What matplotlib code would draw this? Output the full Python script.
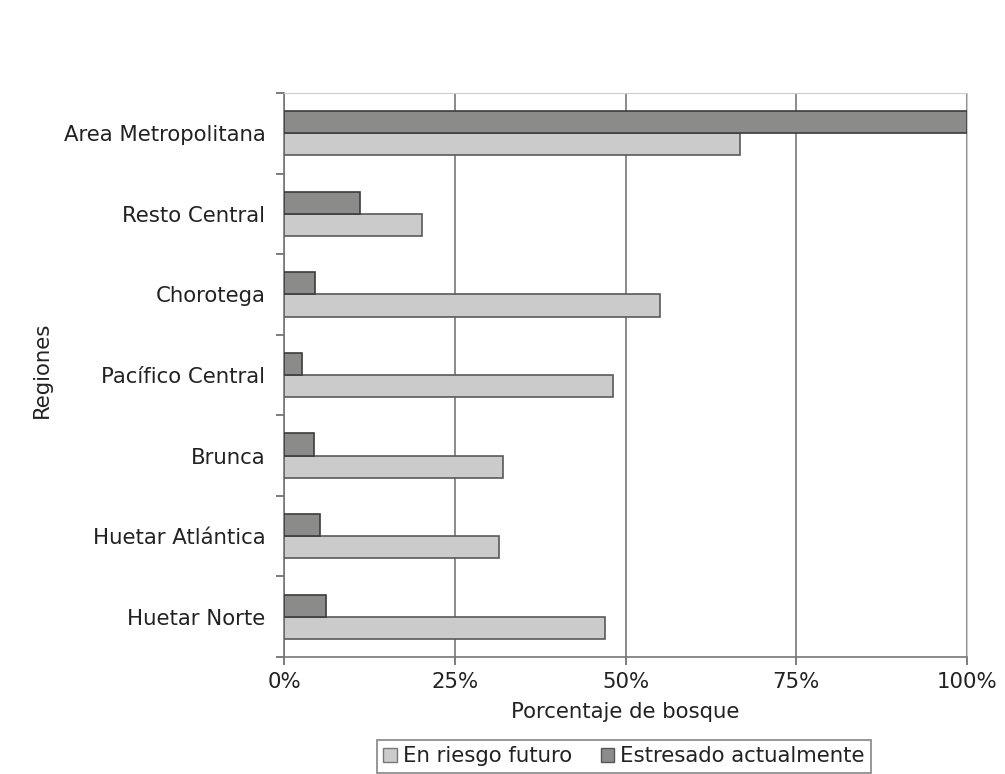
import numpy as np
import matplotlib.pyplot as plt
from matplotlib.patches import Patch

regiones = ['Area Metropolitana', 'Resto Central', 'Chorotega', 'Pacífico Central',
            'Brunca', 'Huetar Atlántica', 'Huetar Norte']
en_riesgo = [66.8, 20.2, 55.1, 48.1, 32.1, 31.5, 47.0]
estresado = [100.0, 11.1, 4.6, 2.6, 4.4, 5.3, 6.1]
xticks = [0, 25, 50, 75, 100]
xlabels = ['0%', '25%', '50%', '75%', '100%']

plt.rcParams['font.family'] = 'DejaVu Sans'
fs = 15.3

fig = plt.figure(figsize=(10.05, 7.74), dpi=100)
ax = fig.add_axes([0.2826, 0.1512, 0.6796, 0.7286])

y = np.arange(len(regiones))
h = 0.274
light = '#cbcbcb'
dark = '#8b8b89'
ax.barh(y + h/2, en_riesgo, height=h, color=light, edgecolor='#5a5a5a', linewidth=1.2, zorder=3)
ax.barh(y - h/2, estresado, height=h, color=dark, edgecolor='#3c3c3c', linewidth=1.2, zorder=3)

ax.set_xlim(0, 100)
ax.set_ylim(len(regiones) - 0.5, -0.5)
ax.set_xticks(xticks)
ax.set_xticklabels(xlabels, fontsize=fs, color='#222222')
ax.set_yticks(y)
ax.set_yticklabels(regiones, fontsize=fs, color='#222222')
ax.set_yticks(np.arange(len(regiones) + 1) - 0.5, minor=True)
ax.tick_params(axis='y', which='major', length=0, pad=13.5)
ax.tick_params(axis='y', which='minor', length=6, color='#666666', width=1.2)
ax.tick_params(axis='x', length=6, color='#666666', width=1.2, pad=5)
ax.xaxis.grid(True, color='#777777', linewidth=1.2, zorder=0)
for s in ['top', 'right']:
    ax.spines[s].set_color('#cccccc')
for s in ['left', 'bottom']:
    ax.spines[s].set_color('#777777')
    ax.spines[s].set_linewidth(1.2)

ax.set_xlabel('Porcentaje de bosque', fontsize=fs, labelpad=7, color='#222222')
fig.text(0.042, 0.522, 'Regiones', rotation=90, fontsize=fs, ha='center', va='center',
         color='#222222')

handles = [Patch(facecolor=light, edgecolor='#777777', label='En riesgo futuro'),
           Patch(facecolor=dark, edgecolor='#555555', label='Estresado actualmente')]
leg = fig.legend(handles=handles, loc='upper center', bbox_to_anchor=(0.621, 0.044), ncol=2,
                 fontsize=fs, frameon=True, fancybox=False, edgecolor='#666666',
                 handlelength=0.62, handleheight=0.62, handletextpad=0.3, columnspacing=1.35,
                 borderpad=0.3, borderaxespad=0)
leg.get_frame().set_linewidth(1.2)
for t in leg.get_texts():
    t.set_color('#222222')

fig.savefig('out.png', dpi=100, facecolor='white')
